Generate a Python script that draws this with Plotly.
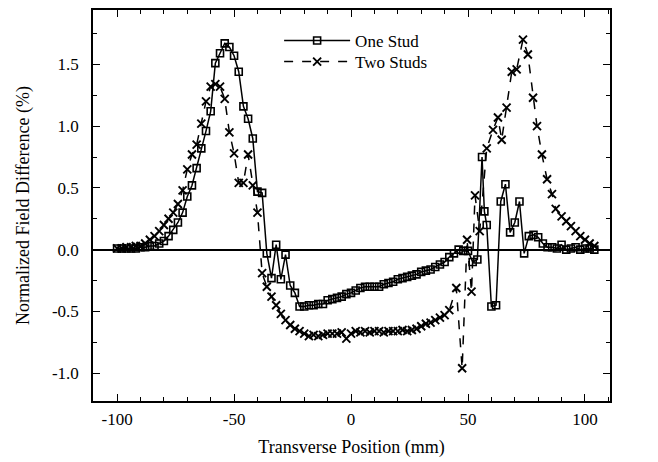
import plotly.graph_objects as go

# ---- data ----
one_stud_x = [-100, -98, -96, -94, -92, -90, -88, -86, -84, -82, -80, -78, -76, -74, -72, -70,
              -68, -66, -64, -62, -60, -58, -56, -54, -52, -50, -48, -46, -44, -42, -40, -38,
              -36, -34, -32, -30, -28, -26, -24, -22, -20, -18, -16, -14, -12, -10, -8, -6,
              -4, -2, 0, 2, 4, 6, 8, 10, 12, 14, 16, 18, 20, 22, 24, 26, 28, 30, 32, 34, 36,
              38, 40, 42, 44, 46, 48, 50, 52, 54, 56, 57, 58, 60, 62, 64, 66, 68, 70, 72, 74,
              76, 78, 80, 82, 84, 86, 88, 90, 92, 94, 96, 98, 100, 102, 104]
one_stud_y = [0.01, 0.01, 0.01, 0.01, 0.01, 0.02, 0.02, 0.03, 0.03, 0.05, 0.07, 0.11, 0.16, 0.22,
              0.30, 0.43, 0.52, 0.66, 0.82, 0.96, 1.12, 1.51, 1.59, 1.67, 1.64, 1.57, 1.44, 1.16,
              1.06, 0.90, 0.47, 0.46, -0.03, -0.23, 0.04, -0.24, -0.04, -0.29, -0.35, -0.46,
              -0.46, -0.45, -0.45, -0.44, -0.44, -0.41, -0.40, -0.39, -0.38, -0.36, -0.35, -0.33,
              -0.31, -0.30, -0.30, -0.30, -0.30, -0.28, -0.27, -0.26, -0.24, -0.23, -0.22, -0.21,
              -0.20, -0.18, -0.17, -0.16, -0.14, -0.12, -0.10, -0.06, -0.03, 0.00, -0.01, -0.01,
              -0.10, -0.08, 0.75, 0.31, 0.20, -0.46, -0.45, 0.39, 0.53, 0.14, 0.22, 0.39, -0.03,
              0.11, 0.12, 0.10, 0.05, 0.02, 0.02, 0.01, 0.04, 0.00, 0.01, 0.02, 0.00, 0.01, 0.01,
              0.00]

two_studs_x = [-100, -98, -96, -94, -92, -90, -88, -86, -84, -82, -80, -78, -76, -74, -72, -70,
               -68, -66, -64, -62, -60, -58, -56, -54, -52, -50, -48, -46, -44, -42, -40, -38,
               -36, -34, -32, -30, -28, -26, -24, -22, -20, -18, -16, -14, -12, -10, -8, -6,
               -4, -2, 0, 2, 4, 6, 8, 10, 12, 14, 16, 18, 20, 22, 24, 26, 28, 30, 32, 34, 36,
               38, 40, 42, 45, 47.5, 49.6, 51.5, 53, 55, 58, 60.7, 62.8, 64.4, 66.5, 68.7, 70.8,
               73.5, 75.6, 77.8, 79.5, 81.6, 83.8, 85.9, 87.5, 90, 92, 94, 96, 98, 100, 102, 104]
two_studs_y = [0.01, 0.01, 0.02, 0.02, 0.03, 0.03, 0.05, 0.08, 0.11, 0.15, 0.20, 0.25, 0.30, 0.37,
               0.48, 0.65, 0.77, 0.85, 1.02, 1.20, 1.32, 1.34, 1.32, 1.22, 0.95, 0.78, 0.54, 0.54,
               0.77, 0.52, 0.30, -0.19, -0.30, -0.38, -0.45, -0.52, -0.57, -0.61, -0.64, -0.66,
               -0.68, -0.70, -0.69, -0.70, -0.69, -0.68, -0.68, -0.68, -0.67, -0.72, -0.68, -0.66,
               -0.67, -0.66, -0.67, -0.66, -0.66, -0.67, -0.66, -0.66, -0.66, -0.65, -0.66, -0.65,
               -0.64, -0.62, -0.60, -0.59, -0.57, -0.55, -0.53, -0.49, -0.31, -0.96, 0.08, -0.34,
               0.44, 0.15, 0.82, 0.97, 1.07, 0.89, 1.15, 1.44, 1.46, 1.70, 1.58, 1.23, 1.00, 0.77,
               0.57, 0.45, 0.33, 0.27, 0.23, 0.19, 0.15, 0.11, 0.08, 0.05, 0.03]

x_tick_vals = [-100, -50, 0, 50, 100]
x_tick_text = ["-100", "-50", "0", "50", "100"]
y_tick_vals = [-1.0, -0.5, 0.0, 0.5, 1.0, 1.5]
y_tick_text = ["-1.0", "-0.5", "0.0", "0.5", "1.0", "1.5"]

FONT = "Liberation Serif, Times New Roman, serif"

fig = go.Figure()
fig.add_trace(go.Scatter(
    x=one_stud_x, y=one_stud_y, mode="lines+markers", name="One Stud", legend="legend",
    line=dict(color="black", width=1.5),
    marker=dict(symbol="square-open", size=7, color="black", line=dict(width=1.6)),
))
fig.add_trace(go.Scatter(
    x=two_studs_x, y=two_studs_y, mode="lines+markers", name="Two Studs", legend="legend2",
    line=dict(color="black", width=1.5, dash="dash"),
    marker=dict(symbol="x-thin", size=8, color="black", line=dict(width=1.9, color="black")),
))

axis_common = dict(
    showline=True, linecolor="black", linewidth=1.6, mirror="ticks",
    ticks="inside", ticklen=7, tickwidth=1.4, tickcolor="black",
    showgrid=False, automargin=False,
    tickfont=dict(family=FONT, size=17, color="black"),
)

fig.update_xaxes(
    range=[-110.3, 110.7], tickvals=x_tick_vals, ticktext=x_tick_text,
    zeroline=False, ticklabelstandoff=2,
    minor=dict(ticks="inside", ticklen=4, tickwidth=1, tickcolor="black", dtick=10, tick0=0),
    title=dict(text="Transverse Position (mm)", font=dict(family=FONT, size=18, color="black"),
               standoff=12),
    **axis_common,
)
fig.update_yaxes(
    range=[-1.225, 1.94], tickvals=y_tick_vals, ticktext=y_tick_text,
    zeroline=True, zerolinecolor="black", zerolinewidth=1.5, ticklabelstandoff=9,
    minor=dict(ticks="inside", ticklen=4, tickwidth=1, tickcolor="black", dtick=0.25, tick0=0),
    title=dict(text="Normalized Field Difference (%)", font=dict(family=FONT, size=18, color="black"),
               standoff=18),
    **axis_common,
)

legend_style = dict(
    xanchor="left", yanchor="middle", bgcolor="rgba(0,0,0,0)",
    font=dict(family=FONT, size=17, color="black"), itemwidth=66,
)

fig.update_layout(
    width=650, height=454,
    margin=dict(l=85, r=48, t=2, b=61),
    paper_bgcolor="white", plot_bgcolor="white",
    font=dict(family=FONT, color="black"),
    legend=dict(x=0.36, y=0.921, **legend_style),
    legend2=dict(x=0.36, y=0.867, **legend_style),
    showlegend=True,
)

fig.write_html("out.html")
